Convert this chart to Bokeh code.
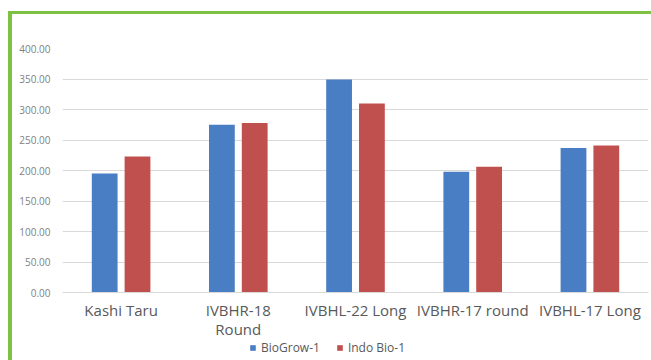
from bokeh.plotting import figure
from bokeh.layouts import column
from bokeh.models import ColumnDataSource, FactorRange, Legend, LegendItem, NumeralTickFormatter, FixedTicker
from bokeh.transform import dodge
from bokeh.embed import file_html
from bokeh.resources import INLINE

categories = ["Kashi Taru", "IVBHR-18\nRound", "IVBHL-22 Long", "IVBHR-17 round", "IVBHL-17 Long"]
biogrow = [195, 275, 349, 198, 237]
indo_bio = [223, 278, 310, 206, 241]
y_ticks = [0, 50, 100, 150, 200, 250, 300, 350, 400]
series_names = ["BioGrow-1", "Indo Bio-1"]
series_colors = ["#4a7ec4", "#c0504d"]

src = ColumnDataSource(dict(cat=categories, bio=biogrow, indo=indo_bio))

p = figure(x_range=FactorRange(*categories), y_range=(0, 400),
           width=651, height=341, output_backend="svg", toolbar_location=None,
           min_border_left=62, min_border_right=3, min_border_top=48, min_border_bottom=46)
p.border_fill_color = None
p.background_fill_color = "white"
p.outline_line_color = None

p.vbar(x=dodge("cat", -0.14, range=p.x_range), top="bio", width=0.22, source=src,
       fill_color=series_colors[0], line_color=None)
p.vbar(x=dodge("cat", 0.14, range=p.x_range), top="indo", width=0.22, source=src,
       fill_color=series_colors[1], line_color=None)

p.yaxis.ticker = FixedTicker(ticks=y_ticks)
p.yaxis.formatter = NumeralTickFormatter(format="0.00")
p.yaxis.axis_line_color = None
p.yaxis.major_tick_line_color = None
p.yaxis.minor_tick_line_color = None
p.yaxis.major_label_text_color = "#7f7f7f"
p.yaxis.major_label_text_font = "Open Sans"
p.yaxis.major_label_text_font_size = "10px"
p.yaxis.major_label_standoff = 6

p.xaxis.axis_line_color = "#d9d9d9"
p.xaxis.major_tick_line_color = None
p.xaxis.minor_tick_line_color = None
p.xaxis.major_label_text_color = "#595959"
p.xaxis.major_label_text_font = "Open Sans"
p.xaxis.major_label_text_font_size = "15px"
p.xaxis.major_label_text_line_height = 0.95
p.xaxis.major_label_standoff = 1

p.xgrid.grid_line_color = None
p.ygrid.grid_line_color = "#d9d9d9"

# legend strip below the chart (swatch proxies sit outside the visible range)
lg = figure(width=651, height=19, output_backend="svg", toolbar_location=None,
            x_range=(0, 1), y_range=(0, 1), x_axis_type=None, y_axis_type=None,
            min_border_left=0, min_border_right=0, min_border_top=0, min_border_bottom=0)
lg.border_fill_color = None
lg.background_fill_color = None
lg.outline_line_color = None
lg.grid.visible = False
items = []
for name, col in zip(series_names, series_colors):
    r = lg.vbar(x=[-5], top=[-5], bottom=[-6], width=0.1, fill_color=col, line_color=None)
    items.append(LegendItem(label=name, renderers=[r]))
legend = Legend(items=items, orientation="horizontal", location=(187, 4),
                label_text_font="Open Sans", label_text_font_size="12px",
                label_text_color="#595959", glyph_width=7, glyph_height=7,
                spacing=16, label_standoff=5, background_fill_alpha=0,
                border_line_color=None, padding=0, margin=0, label_height=14)
lg.add_layout(legend, "center")

layout = column(p, lg, spacing=0)
layout.styles = {"background": "linear-gradient(#7dc242,#7dc242) 8px 11px / 4px 349px no-repeat, "
                               "linear-gradient(#7dc242,#7dc242) 8px 11px / 643px 3px no-repeat, white"}

open("out.html", "w").write(file_html(layout, INLINE))
